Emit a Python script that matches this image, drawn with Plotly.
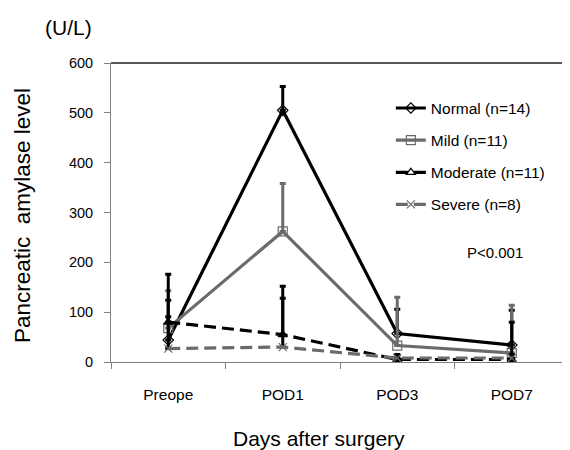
import plotly.graph_objects as go

categories = ["Preope", "POD1", "POD3", "POD7"]
normal = [44, 505, 57, 34]
normal_up = [124, 553, 106, 104]
mild = [68, 262, 33, 18]
mild_up = [143, 358, 130, 114]
moderate = [80, 55, 5, 5]
moderate_up = [176, 152, 10, 80]
severe = [27, 30, 8, 8]
severe_up = [91, 128, 15, 15]

names = ["Normal (n=14)", "Mild (n=11)", "Moderate (n=11)", "Severe (n=8)"]
BLACK = "#000000"
GRAY = "#6b6b6b"

series = [
    (names[0], normal, normal_up, BLACK, "solid", "diamond-open", BLACK, 8),
    (names[1], mild, mild_up, GRAY, "solid", "square-open", GRAY, 9),
    (names[2], moderate, moderate_up, BLACK, "12px,6px", "triangle-up-open", BLACK, 8),
    (names[3], severe, severe_up, GRAY, "12px,6px", "x-thin-open", BLACK, 8),
]

fig = go.Figure()
for i, (nm, vals, ups, col, dash, sym, ecol, msz) in enumerate(series):
    fig.add_trace(go.Scatter(
        x=categories, y=vals, name=nm, mode="lines+markers",
        legendgroup=str(i),
        line=dict(color=col, width=3.2, dash=dash),
        marker=dict(symbol=sym, size=msz, color=col, line=dict(color=col, width=1.2)),
        error_y=dict(type="data", symmetric=False,
                     array=[u - v for u, v in zip(ups, vals)],
                     arrayminus=[0] * len(vals),
                     color=ecol, thickness=3, width=3),
    ))

# page has an 8px body margin; figure sized so plot area lands at page x 111..569, y 63..362
fig.update_layout(
    width=562, height=442,
    margin=dict(l=103, r=1, t=55, b=88),
    paper_bgcolor="white", plot_bgcolor="white",
    font=dict(family="Liberation Sans, Arial, sans-serif", color="black", size=14),
    showlegend=True,
    legend=dict(x=0.611, y=0.905, xanchor="left", yanchor="top",
                font=dict(size=15.5), tracegroupgap=9,
                bgcolor="rgba(0,0,0,0)"),
    xaxis=dict(range=[-0.5, 3.5], showgrid=False, showline=True, linecolor="#808080",
               linewidth=1, ticks="outside", tickson="boundaries", ticklen=6,
               tickcolor="#808080", ticklabelstandoff=18, tickfont=dict(size=15.5),
               zeroline=False),
    yaxis=dict(range=[0, 600], dtick=100, showgrid=False, showline=True, linecolor="#808080",
               linewidth=1, ticks="outside", ticklen=6, tickcolor="#808080",
               ticklabelstandoff=8, tickfont=dict(size=14.5), zeroline=False),
    shapes=[
        dict(type="line", xref="paper", yref="paper", x0=0, x1=1, y0=1, y1=1,
             line=dict(color="#202020", width=1.5)),
        dict(type="line", xref="paper", yref="paper", x0=1, x1=1, y0=0, y1=1,
             line=dict(color="#808080", width=1)),
    ],
    annotations=[
        dict(text="(U/L)", xref="paper", yref="paper", x=(68 - 111) / 458, y=1 + (63 - 27) / 299,
             showarrow=False, font=dict(size=21), xanchor="center", yanchor="middle"),
        dict(text="Pancreatic  amylase level", xref="paper", yref="paper",
             x=(22 - 111) / 458, y=(362 - 216) / 299, textangle=-90,
             showarrow=False, font=dict(size=22.5), xanchor="center", yanchor="middle"),
        dict(text="Days after surgery", xref="paper", yref="paper",
             x=(319 - 111) / 458, y=-(438 - 362) / 299,
             showarrow=False, font=dict(size=21), xanchor="center", yanchor="middle"),
        dict(text="P<0.001", xref="paper", yref="paper",
             x=(495 - 111) / 458, y=(362 - 252) / 299,
             showarrow=False, font=dict(size=15), xanchor="center", yanchor="middle"),
    ],
)

fig.write_html("out.html")
